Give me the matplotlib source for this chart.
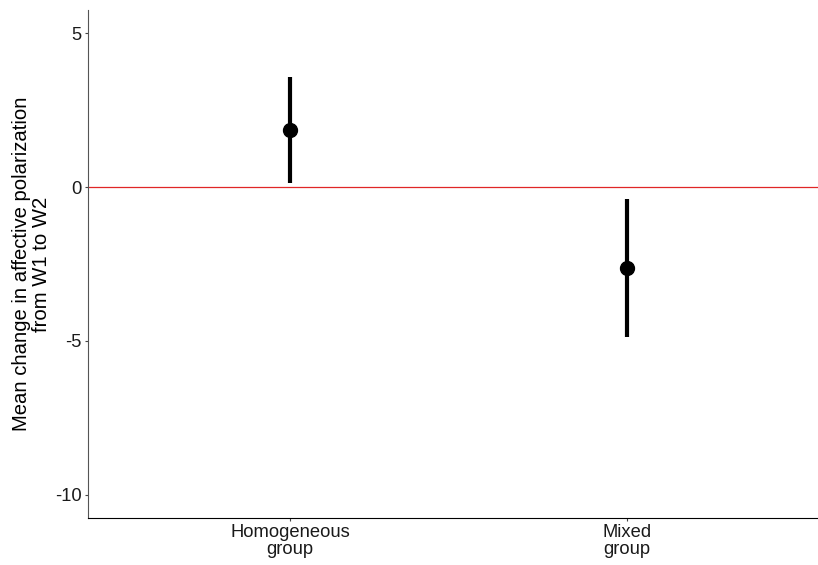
import matplotlib
matplotlib.use("Agg")
import matplotlib.pyplot as plt

# data
groups = ["Homogeneous\ngroup", "Mixed\ngroup"]
means = [1.85, -2.63]
ci_low = [0.13, -4.87]
ci_high = [3.57, -0.39]

plt.rcParams['font.family'] = ['Liberation Sans', 'DejaVu Sans']

fig = plt.figure(figsize=(8.18, 5.65), dpi=100)
ax = fig.add_axes([88 / 818, 1 - 518 / 565, 1 - 88 / 818, 508 / 565])

xpos = [1, 2]
ax.axhline(0, color="#e02626", lw=0.9, zorder=1)
ax.vlines(xpos, ci_low, ci_high, color="black", lw=3, zorder=2)
ax.plot(xpos, means, "o", color="black", ms=10, zorder=3)

ax.set_xlim(0.4006, 2.567)
ax.set_ylim(-10.75, 5.75)
ax.set_yticks([5, 0, -5, -10])
ax.set_yticklabels(["5", "0", "-5", "-10"])
ax.set_xticks(xpos)
ax.set_xticklabels(groups, linespacing=1.0)
ax.tick_params(axis="both", labelsize=13.2, length=2.5, color="#444444",
               labelcolor="#1a1a1a", pad=2)

for s in ["top", "right"]:
    ax.spines[s].set_visible(False)
ax.spines["left"].set_color("#555555")
ax.spines["bottom"].set_color("black")

ax.set_ylabel("Mean change in affective polarization\nfrom W1 to W2",
              fontsize=14.6, linespacing=1.05, labelpad=3)

fig.savefig("out.png", dpi=100)
